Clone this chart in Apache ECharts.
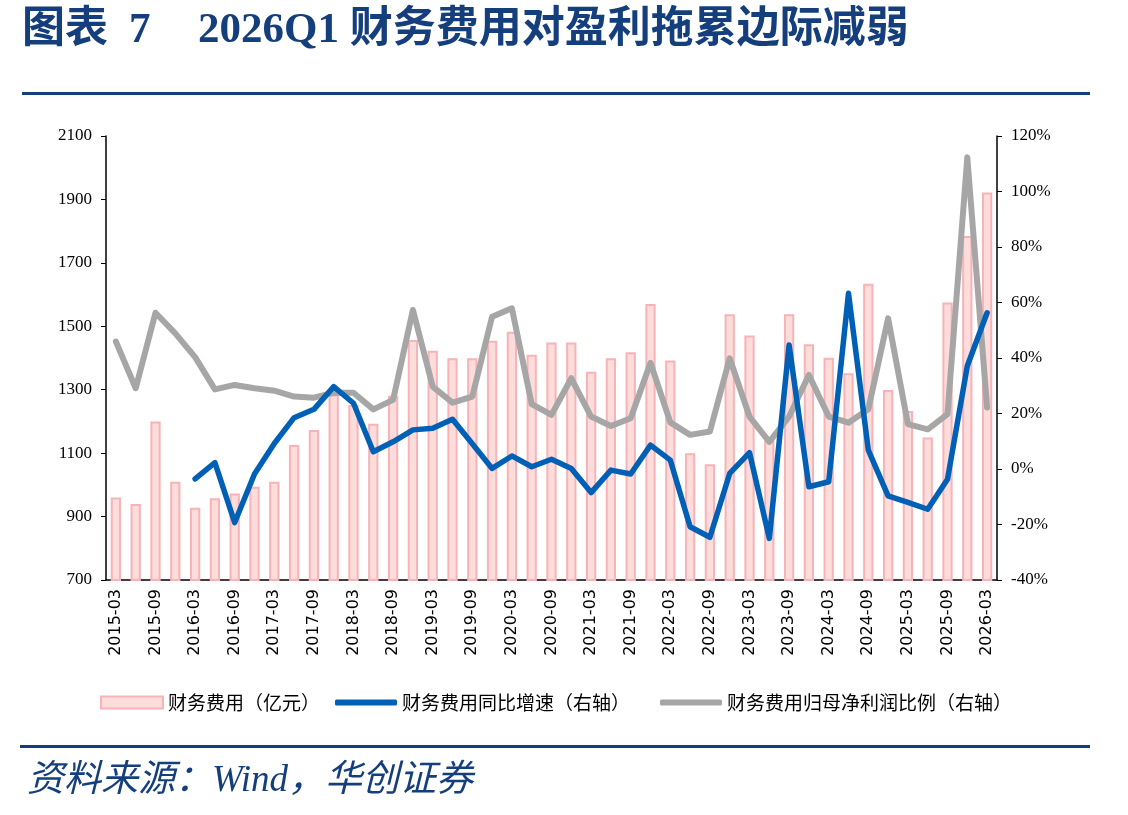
<!DOCTYPE html>
<html>
<head>
<meta charset="utf-8">
<title>财务费用</title>
<script src="https://cdn.jsdelivr.net/npm/echarts@6/dist/echarts.min.js"></script>
<style>
  html, body { margin: 0; padding: 0; background: #ffffff; }
  #main { width: 1128px; height: 815px; }
</style>
</head>
<body>
<div id="main"></div>
<script>
// 季度
var quarters = [
    '2015-03', '2015-06', '2015-09', '2015-12',
    '2016-03', '2016-06', '2016-09', '2016-12',
    '2017-03', '2017-06', '2017-09', '2017-12',
    '2018-03', '2018-06', '2018-09', '2018-12',
    '2019-03', '2019-06', '2019-09', '2019-12',
    '2020-03', '2020-06', '2020-09', '2020-12',
    '2021-03', '2021-06', '2021-09', '2021-12',
    '2022-03', '2022-06', '2022-09', '2022-12',
    '2023-03', '2023-06', '2023-09', '2023-12',
    '2024-03', '2024-06', '2024-09', '2024-12',
    '2025-03', '2025-06', '2025-09', '2025-12',
    '2026-03'
];
// 财务费用（亿元）
var finCost = [
    960, 940, 1200, 1010,
    928, 958, 973, 994,
    1010, 1126, 1173, 1285,
    1252, 1193, 1281, 1457,
    1423, 1399, 1399, 1454,
    1483, 1410, 1449, 1449,
    1357, 1399, 1418, 1570,
    1392, 1100, 1065, 1538,
    1471, 1138, 1538, 1443,
    1401, 1352, 1634, 1299,
    1233, 1149, 1575, 1785,
    1922
];
// 财务费用同比增速（%）
var costYoy = [
    null, null, null, null,
    -3.6, 2.3, -19.3, -1.8,
    9.2, 18.5, 21.5, 29.7,
    23.7, 6.2, 9.8, 14.1,
    14.7, 17.9, 9.1, 0.2,
    4.7, 0.8, 3.5, 0.2,
    -8.5, -0.4, -1.8, 8.6,
    3.2, -20.8, -24.6, -1.6,
    5.9, -25.0, 44.7, -6.4,
    -4.6, 63.3, 6.8, -9.7,
    -12.0, -14.5, -3.7, 37.1,
    56.3
];
// 财务费用/归母净利润（%）
var costRatio = [
    45.9, 29.1, 56.3, 48.9,
    40.3, 28.7, 30.3, 29.1,
    28.2, 26.1, 25.7, 27.5,
    27.5, 21.5, 24.9, 57.3,
    29.7, 23.9, 26.1, 54.9,
    57.9, 23.4, 19.5, 32.7,
    18.9, 15.5, 18.3, 38.3,
    16.8, 12.3, 13.5, 39.9,
    18.9, 9.8, 18.9, 33.9,
    18.9, 16.7, 21.5, 54.3,
    16.2, 14.3, 19.8, 112.3,
    22.2
];
var seriesNames = ['财务费用（亿元）', '财务费用同比增速（右轴）', '财务费用归母净利润比例（右轴）'];

var navy = '#143f7c';
var titleFont = 'bold 43px "Liberation Serif", "Noto Sans CJK SC"';
var axisFont = { color: '#000', fontFamily: 'Liberation Serif', fontSize: 17 };

var myChart = echarts.init(document.getElementById('main'));
var option = {
    backgroundColor: '#ffffff',
    animation: false,
    graphic: [
        // 标题
        { type: 'text', left: 22, top: 9, style: { text: '图表', fill: navy, font: titleFont } },
        { type: 'text', left: 129, top: 9, style: { text: '7', fill: navy, font: titleFont } },
        { type: 'text', left: 198, top: 9, style: { text: '2026Q1 财务费用对盈利拖累边际减弱', fill: navy, font: titleFont } },
        { type: 'rect', shape: { x: 22, y: 92, width: 1068, height: 3 }, style: { fill: navy } },
        { type: 'rect', shape: { x: 20, y: 745, width: 1070, height: 3 }, style: { fill: navy } },
        {
            type: 'text', left: 27, top: 763,
            style: {
                text: '资料来源：Wind，华创证券',
                fill: navy,
                font: 'italic 37px "Liberation Serif", "Noto Sans CJK SC"'
            }
        }
    ],
    legend: [
        { left: 95, top: 688, itemHeight: 12, data: [{ name: seriesNames[0], icon: 'rect' }] },
        { left: 330, top: 688, itemHeight: 6, data: [{ name: seriesNames[1], icon: 'roundRect' }] },
        { left: 655, top: 688, itemHeight: 6, data: [{ name: seriesNames[2], icon: 'roundRect' }] }
    ].map(function (l) {
        l.itemWidth = 62;
        l.itemGap = 5;
        l.textStyle = { color: '#000', fontSize: 19, fontFamily: 'Noto Sans CJK SC' };
        return l;
    }),
    grid: {
        left: 106,
        right: 131,
        top: 136,
        bottom: 235
    },
    xAxis: {
        type: 'category',
        data: quarters,
        boundaryGap: true,
        axisLine: { onZero: false, lineStyle: { color: '#000', width: 1.5 } },
        axisTick: { interval: 0, length: 5, lineStyle: { color: '#000' } },
        axisLabel: {
            interval: 1,
            rotate: 90,
            margin: 9,
            color: '#000',
            fontSize: 16,
            fontFamily: 'DejaVu Sans'
        }
    },
    yAxis: [
        {
            type: 'value',
            min: 700,
            max: 2100,
            interval: 200,
            axisLine: { show: true, lineStyle: { color: '#000', width: 1.5 } },
            axisTick: { show: true, length: 5, lineStyle: { color: '#000' } },
            splitLine: { show: false },
            axisLabel: Object.assign({
                margin: 14,
                formatter: function (v) { return String(v); }
            }, axisFont)
        },
        {
            type: 'value',
            min: -40,
            max: 120,
            interval: 20,
            position: 'right',
            axisLine: { show: true, lineStyle: { color: '#000', width: 1.5 } },
            axisTick: { show: true, length: 5, lineStyle: { color: '#000' } },
            splitLine: { show: false },
            axisLabel: Object.assign({ margin: 14, formatter: '{value}%' }, axisFont)
        }
    ],
    series: [
        {
            name: seriesNames[0],
            type: 'bar',
            data: finCost,
            barWidth: '52%',
            itemStyle: {
                color: '#fddcdc',
                borderColor: '#f7b3b5',
                borderWidth: 2
            },
            z: 1
        },
        {
            name: seriesNames[1],
            type: 'line',
            yAxisIndex: 1,
            data: costYoy,
            symbol: 'none',
            lineStyle: { color: '#0060b6', width: 5.5, cap: 'round', join: 'round' },
            itemStyle: { color: '#0060b6' },
            z: 4
        },
        {
            name: seriesNames[2],
            type: 'line',
            yAxisIndex: 1,
            data: costRatio,
            symbol: 'none',
            lineStyle: { color: '#a6a6a6', width: 6, cap: 'round', join: 'round' },
            itemStyle: { color: '#a6a6a6' },
            z: 3
        }
    ]
};
myChart.setOption(option);
</script>
</body>
</html>
